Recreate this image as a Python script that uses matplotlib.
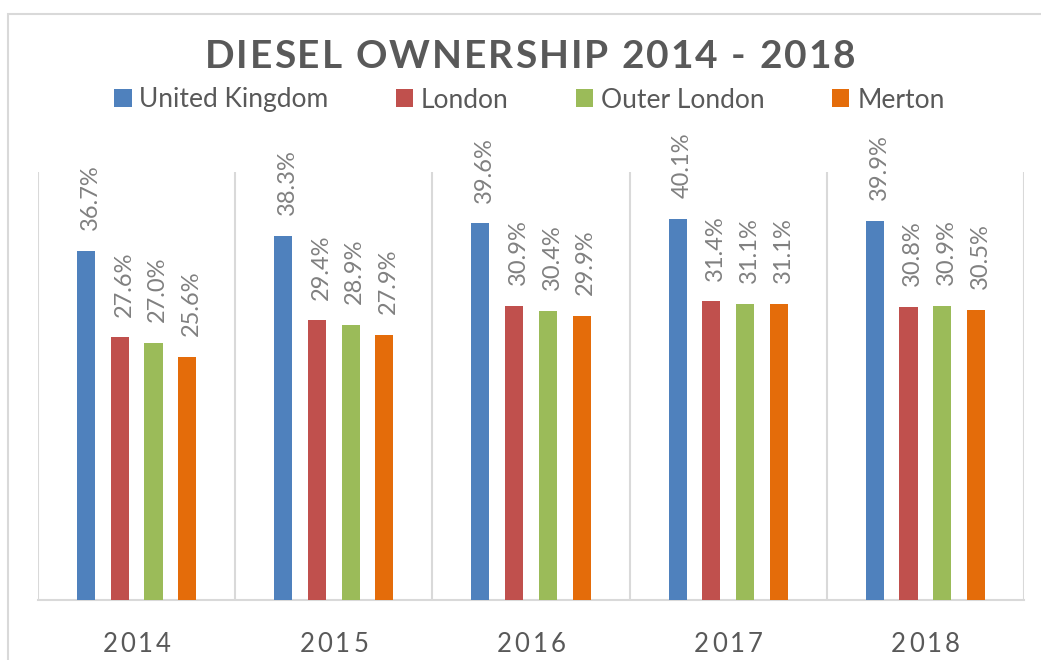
import numpy as np
import matplotlib.pyplot as plt
from matplotlib.patches import Rectangle, Patch

# ── Dados ─────────────────────────────────────────────────────────────────────
years  = ['2014', '2015', '2016', '2017', '2018']
uk     = [36.7, 38.3, 39.6, 40.1, 39.9]
london = [27.6, 29.4, 30.9, 31.4, 30.8]
outer  = [27.0, 28.9, 30.4, 31.1, 30.9]
merton = [25.6, 27.9, 29.9, 31.1, 30.5]

series_names = ['United Kingdom', 'London', 'Outer London', 'Merton']
colors = ['#4F81BD', '#C0504D', '#9BBB59', '#E46C0A']

W, H = 1041, 660
FONT = 'Lato'
GREY_TXT = '#595959'
GREY_LBL = '#808080'
GRID = '#D9D9D9'

plt.rcParams['font.family'] = [FONT, 'DejaVu Sans']

fig = plt.figure(figsize=(W / 100, H / 100), dpi=100)
ax = fig.add_axes([38 / W, 60 / H, (1024 - 38) / W, (600 - 172) / H])

# ── Barras ────────────────────────────────────────────────────────────────────
x = np.arange(len(years))
step, width = 0.171, 0.092
offsets = (np.arange(4) - 1.5) * step
for vals, name, col, off in zip([uk, london, outer, merton], series_names, colors, offsets):
    bars = ax.bar(x + off, vals, width=width, color=col, label=name, zorder=3)
    for b, v in zip(bars, vals):
        ax.annotate(f'{v:.1f}%', xy=(b.get_x() + b.get_width() / 2, v),
                    xytext=(3, 15), textcoords='offset points',
                    rotation=90, ha='center', va='bottom',
                    fontsize=17, color=GREY_LBL)

ax.set_xlim(-0.5, len(years) - 0.5)
ax.set_ylim(0, 45)
ax.set_yticks([])
ax.set_xticks([])
for s in ['top', 'left', 'right']:
    ax.spines[s].set_visible(False)
ax.spines['bottom'].set_color(GRID)
ax.spines['bottom'].set_linewidth(1.5)

# separadores verticais entre anos
for b in np.arange(-0.5, len(years), 1.0):
    ax.axvline(b, color=GRID, lw=1.5, zorder=1)


# ── Texto com espaçamento entre letras ───────────────────────────────────────
renderer = fig.canvas.get_renderer()


def spaced_text(cx, cy, s, gap, **kw):
    widths = []
    for ch in s:
        t = fig.text(0, 0, ch, **kw)
        widths.append(t.get_window_extent(renderer).width if ch != ' ' else None)
        t.remove()
    sp = fig.text(0, 0, 'n n', **kw)
    n1 = fig.text(0, 0, 'nn', **kw)
    space_w = sp.get_window_extent(renderer).width - n1.get_window_extent(renderer).width
    sp.remove()
    n1.remove()
    widths = [w if w is not None else space_w for w in widths]
    total = sum(widths) + gap * (len(s) - 1)
    px = cx - total / 2
    for ch, w in zip(s, widths):
        fig.text(px / W, 1 - cy / H, ch, ha='left', va='center', **kw)
        px += w + gap


spaced_text(530, 56, 'DIESEL OWNERSHIP 2014 - 2018', 2,
            fontsize=28, fontweight='bold', color=GREY_TXT)

# rótulos dos anos
for i, yr in enumerate(years):
    cx = 38 + (i + 0.5) * (1024 - 38) / len(years)
    spaced_text(cx, 645, yr, 3, fontsize=18.5, color=GREY_TXT)

# ── Legenda ──────────────────────────────────────────────────────────────────
handles = [Patch(facecolor=c) for c in colors]
leg = fig.legend(handles, series_names, loc='center', ncol=4,
                 bbox_to_anchor=(529.5 / W, 1 - 100 / H),
                 frameon=False, fontsize=19, handlelength=0.65,
                 handleheight=0.65, handletextpad=0.3, columnspacing=2.55,
                 borderpad=0, borderaxespad=0)
for t in leg.get_texts():
    t.set_color(GREY_TXT)

# borda exterior do gráfico
fig.patches.append(Rectangle((8 / W, -0.1), 1.2, 1.1 - 14 / H + 0.0,
                             transform=fig.transFigure, fill=False,
                             edgecolor=GRID, lw=1.5))

fig.savefig('out.png', dpi=100)
